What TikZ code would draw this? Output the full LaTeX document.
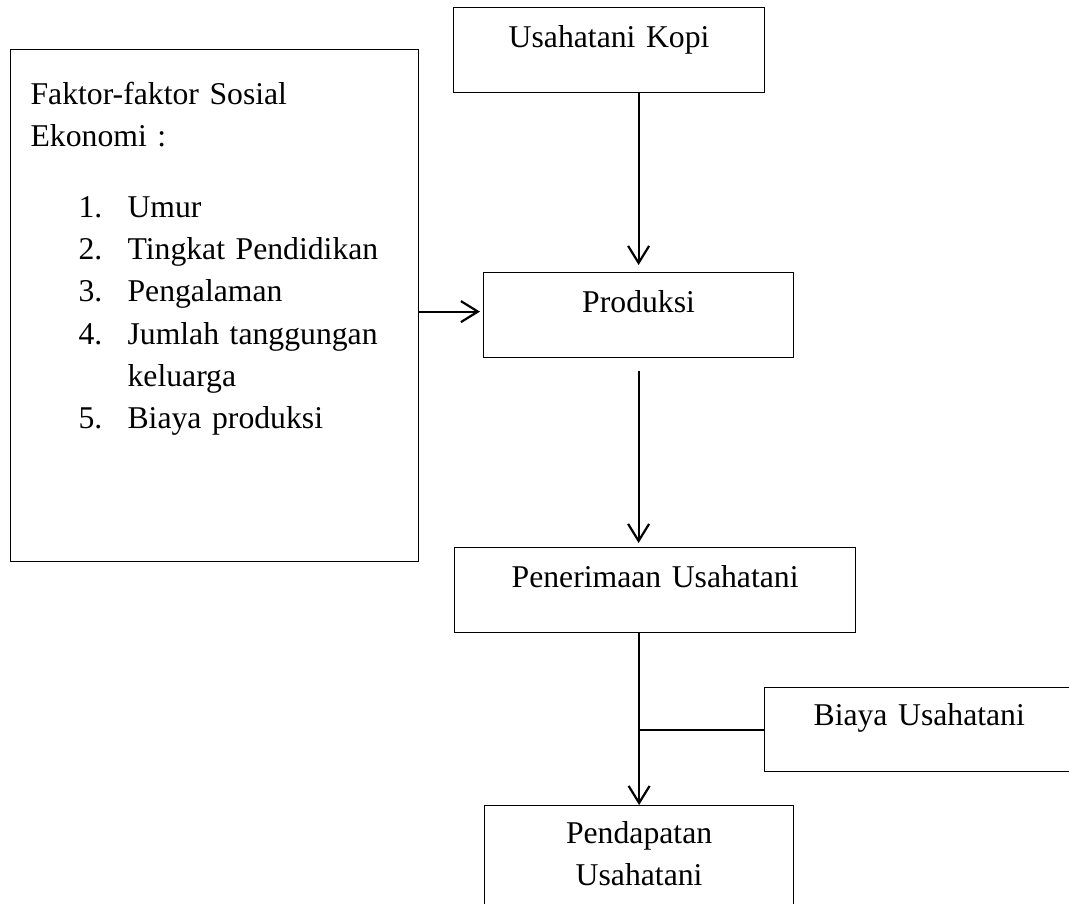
\documentclass[tikz,border=0pt]{standalone}
\usepackage{fontspec}
\setmainfont{Liberation Serif}
\usetikzlibrary{arrows.meta}
\begin{document}
\begin{tikzpicture}[x=1pt,y=-1pt,
  box/.style={draw, line width=1.2pt, inner sep=0pt, anchor=north west,
    font=\fontsize{31.7}{42.3}\selectfont},
  conn/.style={line width=2.2pt},
  arr/.style={conn, -{Straight Barb[length=17pt,width=21pt]}}]
\useasboundingbox (0,0) rectangle (1069,903);
\clip (0,0) rectangle (1069,903);

\node[box, text width=311pt, align=center, text height=40pt, text depth=45pt] (kopi) at (453,7) {Usahatani Kopi};
\node[box, text width=310pt, align=center, text height=40pt, text depth=45pt] (prod) at (483,272) {Produksi};
\node[box, text width=401pt, align=center, text height=40pt, text depth=45pt] (pen) at (454,547) {Penerimaan Usahatani};
\node[box, text width=300pt, inner xsep=49pt, align=left, text height=38pt, text depth=46pt] (biaya) at (764,687) {Biaya Usahatani};
\node[box, text width=309pt, align=center, text height=38pt, text depth=100pt] (pend) at (484,805) {Pendapatan\\Usahatani};
\node[box, text width=368pt, inner xsep=20pt, align=left, text height=55pt, text depth=457pt] (faktor) at (10,49) {%
Faktor-faktor Sosial\\
Ekonomi :\\[28pt]
\hspace*{48pt}\makebox[49pt][l]{1.}Umur\\
\hspace*{48pt}\makebox[49pt][l]{2.}Tingkat Pendidikan\\
\hspace*{48pt}\makebox[49pt][l]{3.}Pengalaman\\
\hspace*{48pt}\makebox[49pt][l]{4.}Jumlah tanggungan\\
\hspace*{97pt}keluarga\\
\hspace*{48pt}\makebox[49pt][l]{5.}Biaya produksi};

\coordinate (pin) at ([xshift=-3pt, yshift=3.5pt]prod.west);
\coordinate (t2) at (pen.north -| prod.south);

\draw[arr] (kopi.south -| prod.north) -- ([yshift=7pt]prod.north);
\draw[arr] (faktor.east |- pin) -- (pin);
\draw[arr] ([yshift=-13pt]prod.south) -- ([yshift=4pt]t2);
\draw[arr] (pen.south -| pend.north) -- (pend.north);
\draw[conn] (biaya.west) -- (biaya.west -| pend.north);
\end{tikzpicture}
\end{document}
